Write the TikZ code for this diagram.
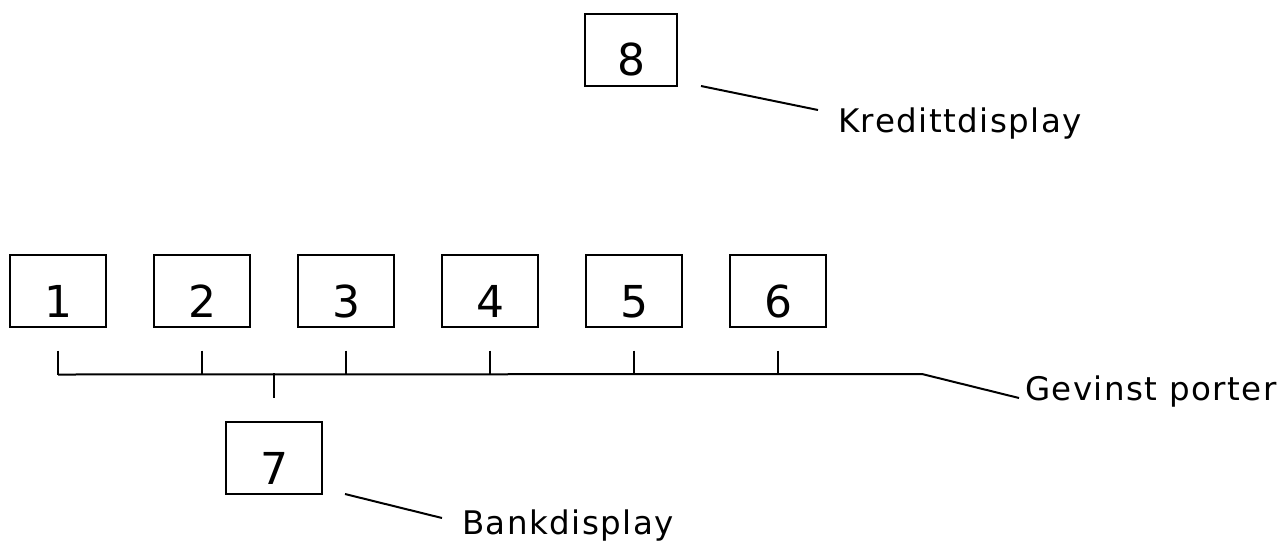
\documentclass[tikz,border=0pt]{standalone}
\usepackage{fontspec}
\setmainfont{DejaVu Sans}
\newfontfamily\labelfont[LetterSpace=4.5]{DejaVu Sans}
\usetikzlibrary{calc}
\begin{document}
\begin{tikzpicture}[x=1pt,y=-1pt,
  display/.style={draw,line width=2pt,minimum width=96pt,minimum height=72pt,inner sep=0pt},
  digit/.style={anchor=base,inner sep=0pt,font=\fontsize{44}{44}\selectfont},
  caption/.style={anchor=base west,inner sep=0pt,font=\labelfont\fontsize{32.5}{32.5}\selectfont},
  wire/.style={line width=2pt}]
\useasboundingbox (0,0) rectangle (1287,542);

% credit display
\node[display,minimum width=92pt] (b8) at (631,50) {};
\node[digit] (d8) at (631,75) {8};

% prize ports
\foreach \i/\x in {1/58,2/202,3/346,4/490,5/634,6/778}{
  \node[display] (b\i) at (\x,290.5) {};
  \node[digit] (d\i) at (\x,317) {\i};
}

% bank display
\node[display] (b7) at (274,458) {};
\node[digit] (d7) at (274,484) {7};

% captions
\node[caption] (kl) at (838,132) {Kredittdisplay};
\node[caption] (gl) at (1025,400) {Gevinst porter};
\node[caption] (bl) at (462,534) {Bankdisplay};

% bus joining the prize ports
\foreach \i in {1,...,6}{
  \coordinate (t\i) at ($(b\i.south)+(0,23)$);
  \coordinate (u\i) at ($(b\i.south)+(0,47)$);
  \draw[wire] (t\i) -- (u\i);
}
\coordinate (busend) at (922,374);
\draw[wire] (u1) -- (busend);
\coordinate (g1) at (1019,398);
\draw[wire] (busend) -- (g1);

% bank tap
\coordinate (bt) at ($(b7.north)+(0,-48)$);
\coordinate (bb) at ($(b7.north)+(0,-23)$);
\draw[wire] (bt) -- (bb);

% leader lines to captions
\coordinate (k0) at (701,86);
\coordinate (k1) at (818,110);
\draw[wire] (k0) -- (k1);
\coordinate (m0) at (345,494);
\coordinate (m1) at (442,518);
\draw[wire] (m0) -- (m1);
\end{tikzpicture}
\end{document}
